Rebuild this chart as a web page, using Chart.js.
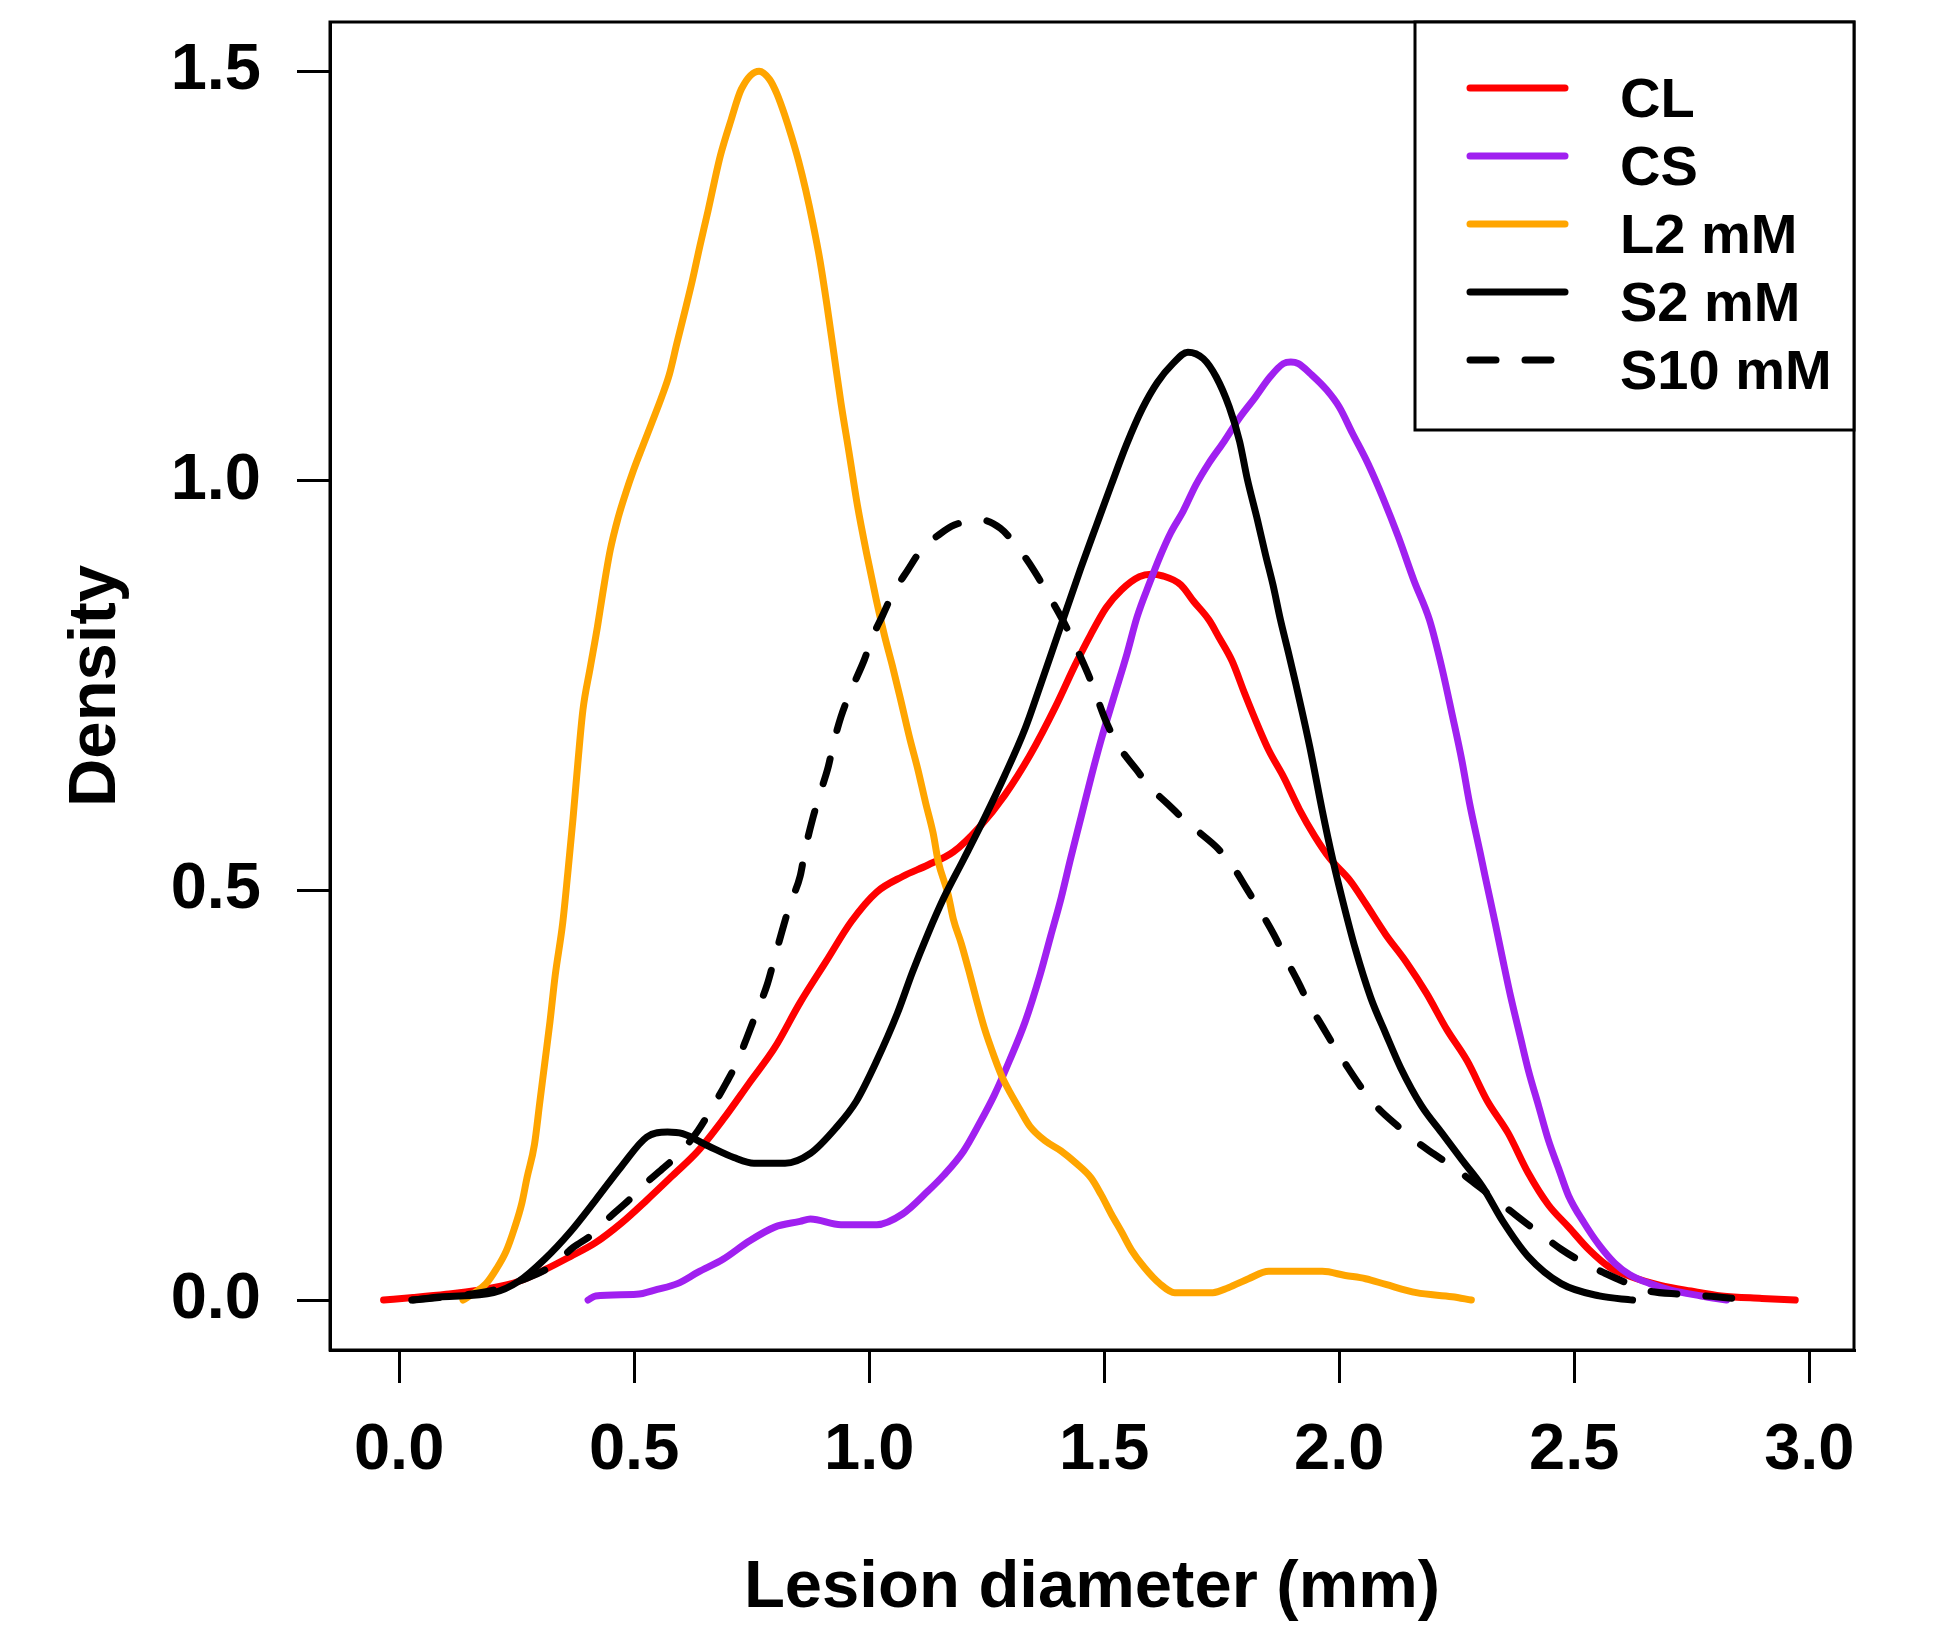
<!DOCTYPE html>
<html>
<head>
<meta charset="utf-8">
<title>Lesion diameter density</title>
<script src="https://cdn.jsdelivr.net/npm/chart.js@4.4.1/dist/chart.umd.min.js"></script>
<style>
	html, body { margin: 0; padding: 0; background: #fff; }
	#wrap { width: 1948px; height: 1644px; }
</style>
</head>
<body>
<div id="wrap"><canvas id="chartDensity"></canvas></div>
<script>
const chartDensity = document.getElementById("chartDensity");

// Data
const labels = ["CL", "CS", "L2 mM", "S2 mM", "S10 mM"];
const colors = ["#FF0000", "#A020F0", "#FFA500", "#000000", "#000000"];
const xTicks = [0, 0.5, 1, 1.5, 2, 2.5, 3];
const yTicks = [0, 0.5, 1, 1.5];

const clX = [-0.033, 0.03, 0.10, 0.20, 0.255, 0.31, 0.364, 0.418, 0.473, 0.527, 0.582, 0.636, 0.69, 0.745, 0.799, 0.853, 0.908, 0.962, 1.016, 1.071, 1.125, 1.179, 1.234, 1.288, 1.342, 1.397, 1.438, 1.471, 1.504, 1.537, 1.575, 1.60, 1.624, 1.663, 1.69, 1.723, 1.744, 1.772, 1.799, 1.829, 1.85, 1.882, 1.915, 1.948, 1.98, 2.023, 2.056, 2.099, 2.142, 2.186, 2.229, 2.272, 2.315, 2.359, 2.402, 2.445, 2.488, 2.532, 2.575, 2.618, 2.683, 2.748, 2.813, 2.899, 2.97];
const clY = [0, 0.003, 0.007, 0.015, 0.023, 0.037, 0.053, 0.07, 0.094, 0.122, 0.152, 0.182, 0.221, 0.265, 0.308, 0.363, 0.413, 0.462, 0.498, 0.517, 0.531, 0.547, 0.577, 0.616, 0.665, 0.725, 0.775, 0.812, 0.845, 0.867, 0.883, 0.886, 0.884, 0.873, 0.853, 0.83, 0.809, 0.78, 0.74, 0.698, 0.671, 0.638, 0.599, 0.566, 0.539, 0.512, 0.484, 0.446, 0.413, 0.374, 0.33, 0.292, 0.243, 0.204, 0.155, 0.116, 0.089, 0.061, 0.04, 0.029, 0.018, 0.011, 0.005, 0.002, 0];

const csX = [0.402, 0.418, 0.505, 0.549, 0.592, 0.636, 0.69, 0.745, 0.799, 0.853, 0.875, 0.94, 1.016, 1.071, 1.125, 1.158, 1.201, 1.234, 1.266, 1.299, 1.332, 1.364, 1.386, 1.408, 1.429, 1.451, 1.472, 1.494, 1.52, 1.548, 1.57, 1.597, 1.619, 1.641, 1.668, 1.695, 1.722, 1.755, 1.788, 1.82, 1.853, 1.881, 1.897, 1.913, 1.94, 1.973, 2.0, 2.028, 2.061, 2.093, 2.126, 2.159, 2.192, 2.219, 2.24, 2.261, 2.277, 2.299, 2.31, 2.331, 2.348, 2.364, 2.386, 2.402, 2.424, 2.445, 2.467, 2.488, 2.521, 2.553, 2.586, 2.618, 2.661, 2.705, 2.77, 2.824];
const csY = [0, 0.005, 0.007, 0.013, 0.02, 0.034, 0.05, 0.072, 0.089, 0.096, 0.099, 0.092, 0.092, 0.105, 0.133, 0.152, 0.182, 0.215, 0.25, 0.293, 0.34, 0.398, 0.444, 0.49, 0.54, 0.59, 0.638, 0.685, 0.735, 0.788, 0.834, 0.876, 0.908, 0.936, 0.963, 0.995, 1.021, 1.048, 1.077, 1.101, 1.127, 1.143, 1.145, 1.143, 1.13, 1.111, 1.09, 1.058, 1.021, 0.979, 0.931, 0.878, 0.83, 0.77, 0.715, 0.658, 0.607, 0.548, 0.518, 0.462, 0.415, 0.372, 0.319, 0.281, 0.237, 0.195, 0.16, 0.127, 0.094, 0.067, 0.045, 0.031, 0.02, 0.012, 0.005, 0];

const l2X = [0.136, 0.158, 0.185, 0.207, 0.228, 0.245, 0.261, 0.272, 0.288, 0.299, 0.31, 0.321, 0.332, 0.348, 0.359, 0.37, 0.38, 0.391, 0.406, 0.422, 0.433, 0.449, 0.466, 0.482, 0.498, 0.52, 0.537, 0.559, 0.575, 0.591, 0.608, 0.624, 0.64, 0.657, 0.671, 0.684, 0.706, 0.728, 0.766, 0.788, 0.804, 0.82, 0.835, 0.85, 0.865, 0.88, 0.895, 0.91, 0.925, 0.94, 0.957, 0.975, 0.995, 1.015, 1.033, 1.049, 1.066, 1.087, 1.103, 1.12, 1.136, 1.147, 1.168, 1.179, 1.196, 1.212, 1.228, 1.245, 1.266, 1.283, 1.299, 1.321, 1.342, 1.375, 1.408, 1.44, 1.472, 1.494, 1.515, 1.537, 1.558, 1.585, 1.618, 1.65, 1.731, 1.764, 1.807, 1.85, 1.964, 2.013, 2.056, 2.099, 2.164, 2.24, 2.281];
const l2Y = [0, 0.008, 0.02, 0.038, 0.06, 0.087, 0.118, 0.149, 0.19, 0.24, 0.29, 0.34, 0.396, 0.46, 0.522, 0.588, 0.654, 0.72, 0.77, 0.822, 0.862, 0.915, 0.955, 0.985, 1.012, 1.045, 1.07, 1.103, 1.13, 1.168, 1.207, 1.245, 1.287, 1.329, 1.366, 1.398, 1.44, 1.478, 1.50, 1.49, 1.472, 1.447, 1.42, 1.39, 1.355, 1.315, 1.27, 1.215, 1.155, 1.095, 1.035, 0.97, 0.91, 0.855, 0.81, 0.775, 0.735, 0.684, 0.649, 0.607, 0.57, 0.535, 0.495, 0.465, 0.435, 0.402, 0.367, 0.332, 0.297, 0.272, 0.254, 0.232, 0.212, 0.194, 0.182, 0.167, 0.149, 0.128, 0.105, 0.083, 0.061, 0.04, 0.02, 0.009, 0.009, 0.015, 0.026, 0.035, 0.035, 0.03, 0.026, 0.019, 0.009, 0.004, 0];

const s2X = [0.027, 0.092, 0.201, 0.255, 0.31, 0.364, 0.418, 0.473, 0.527, 0.571, 0.603, 0.658, 0.712, 0.755, 0.821, 0.875, 0.929, 0.973, 1.016, 1.06, 1.092, 1.125, 1.158, 1.201, 1.245, 1.288, 1.332, 1.364, 1.40, 1.45, 1.483, 1.515, 1.548, 1.581, 1.613, 1.646, 1.678, 1.711, 1.738, 1.766, 1.788, 1.804, 1.826, 1.843, 1.859, 1.875, 1.892, 1.908, 1.937, 1.964, 1.986, 2.007, 2.034, 2.067, 2.099, 2.131, 2.175, 2.218, 2.261, 2.305, 2.348, 2.402, 2.472, 2.553, 2.624];
const s2Y = [0, 0.004, 0.009, 0.023, 0.05, 0.083, 0.122, 0.163, 0.199, 0.205, 0.203, 0.188, 0.174, 0.167, 0.167, 0.179, 0.21, 0.243, 0.292, 0.35, 0.4, 0.447, 0.49, 0.538, 0.588, 0.64, 0.698, 0.75, 0.81, 0.893, 0.945, 0.995, 1.045, 1.088, 1.12, 1.143, 1.157, 1.149, 1.127, 1.09, 1.048, 1.003, 0.952, 0.91, 0.873, 0.83, 0.79, 0.751, 0.676, 0.597, 0.538, 0.488, 0.429, 0.369, 0.325, 0.283, 0.237, 0.204, 0.171, 0.138, 0.096, 0.053, 0.02, 0.005, 0];

const s10X = [0.03, 0.1, 0.2, 0.26, 0.326, 0.37, 0.413, 0.446, 0.489, 0.516, 0.56, 0.598, 0.636, 0.663, 0.696, 0.717, 0.739, 0.761, 0.783, 0.799, 0.815, 0.832, 0.853, 0.864, 0.88, 0.897, 0.913, 0.924, 0.94, 0.962, 0.99, 1.006, 1.028, 1.05, 1.082, 1.11, 1.148, 1.181, 1.24, 1.279, 1.317, 1.35, 1.377, 1.404, 1.426, 1.448, 1.47, 1.483, 1.504, 1.531, 1.569, 1.596, 1.634, 1.667, 1.704, 1.742, 1.775, 1.802, 1.834, 1.861, 1.888, 1.91, 1.937, 1.964, 1.991, 2.018, 2.05, 2.083, 2.121, 2.158, 2.202, 2.24, 2.278, 2.316, 2.359, 2.397, 2.434, 2.472, 2.515, 2.564, 2.607, 2.651, 2.726, 2.802, 2.872];
const s10Y = [0, 0.004, 0.012, 0.024, 0.042, 0.064, 0.081, 0.1, 0.122, 0.138, 0.16, 0.18, 0.207, 0.232, 0.265, 0.288, 0.319, 0.352, 0.385, 0.418, 0.451, 0.484, 0.517, 0.55, 0.588, 0.621, 0.651, 0.679, 0.712, 0.745, 0.782, 0.808, 0.835, 0.862, 0.891, 0.915, 0.934, 0.946, 0.952, 0.942, 0.918, 0.891, 0.865, 0.838, 0.814, 0.787, 0.758, 0.738, 0.706, 0.676, 0.647, 0.627, 0.606, 0.588, 0.57, 0.551, 0.528, 0.503, 0.473, 0.446, 0.415, 0.391, 0.36, 0.334, 0.308, 0.284, 0.257, 0.234, 0.214, 0.196, 0.178, 0.163, 0.147, 0.13, 0.111, 0.094, 0.078, 0.062, 0.047, 0.033, 0.022, 0.012, 0.007, 0.004, 0];

const seriesX = [clX, csX, l2X, s2X, s10X];
const seriesY = [clY, csY, l2Y, s2Y, s10Y];
const dashes = [[], [], [], [], [26, 29]];

Chart.defaults.font.family = "'Liberation Sans', Arial, Helvetica, sans-serif";
Chart.defaults.font.weight = "bold";
Chart.defaults.color = "#000";

function toPoints(xs, ys) {
	let pts = [];
	xs.forEach(function(x, i) {
		pts.push({x: x, y: ys[i]});
	});
	return pts;
}

const datasets = labels.map(function(label, i) {
	return {
		label: label,
		data: toPoints(seriesX[i], seriesY[i]),
		borderColor: colors[i],
		borderWidth: 7,
		borderDash: dashes[i],
		borderCapStyle: "round",
		borderJoinStyle: "round",
		pointRadius: 0,
		fill: false,
		cubicInterpolationMode: "monotone",
		order: labels.length - i
	};
});

// box around the plot region
const plotBox = {
	id: "plotBox",
	afterDraw(chart) {
		const {ctx, chartArea} = chart;
		ctx.save();
		ctx.strokeStyle = "#000";
		ctx.lineWidth = 3;
		ctx.strokeRect(chartArea.left, chartArea.top, chartArea.right - chartArea.left, chartArea.bottom - chartArea.top);
		ctx.restore();
	}
};

// legend box in the top right corner
const boxLegend = {
	id: "boxLegend",
	afterDraw(chart) {
		const {ctx, chartArea} = chart;
		const right = chartArea.right;
		const top = chartArea.top;
		ctx.save();
		ctx.fillStyle = "#fff";
		ctx.fillRect(right - 439, top, 439, 408);
		ctx.strokeStyle = "#000";
		ctx.lineWidth = 3;
		ctx.strokeRect(right - 439, top, 439, 408);
		chart.data.datasets.forEach(function(ds, i) {
			const y = top + 66 + i * 68;
			ctx.beginPath();
			ctx.setLineDash(ds.borderDash);
			ctx.lineCap = "round";
			ctx.lineWidth = ds.borderWidth;
			ctx.strokeStyle = ds.borderColor;
			ctx.moveTo(right - 384, y);
			ctx.lineTo(right - 289, y);
			ctx.stroke();
			ctx.setLineDash([]);
			ctx.fillStyle = "#000";
			ctx.font = "bold 56px 'Liberation Sans', Arial, sans-serif";
			ctx.textAlign = "left";
			ctx.textBaseline = "alphabetic";
			ctx.fillText(ds.label, right - 234, y + 29);
		});
		ctx.restore();
	}
};

const densityChart = new Chart(chartDensity, {
	type: "line",
	data: { datasets: datasets },
	plugins: [plotBox, boxLegend],
	options: {
		responsive: true,
		maintainAspectRatio: false,
		animation: false,
		devicePixelRatio: 1,
		layout: { padding: { top: 22, right: 94, left: 0, bottom: 0 } },
		plugins: {
			legend: { display: false },
			tooltip: { enabled: false }
		},
		scales: {
			x: {
				type: "linear",
				min: -0.147,
				max: 3.095,
				afterBuildTicks: function(s) { s.ticks = xTicks.map(v => ({value: v})); },
				afterFit: function(s) {
					s.height = 294;
					s.paddingLeft = 0;
					s.paddingRight = 0;
				},
				grid: { drawOnChartArea: false, drawTicks: true, tickLength: 33, color: "#000", lineWidth: 3 },
				border: { display: true, color: "#000", width: 3 },
				ticks: {
					padding: 29,
					autoSkip: false,
					maxRotation: 0,
					font: { size: 65, weight: "bold" },
					color: "#000",
					callback: v => v.toFixed(1)
				},
				title: {
					display: true,
					text: "Lesion diameter (mm)",
					font: { size: 67, weight: "bold" },
					color: "#000",
					padding: { top: 0, bottom: 15 }
				}
			},
			y: {
				type: "linear",
				min: -0.061,
				max: 1.56,
				afterBuildTicks: function(s) { s.ticks = yTicks.map(v => ({value: v})); },
				afterFit: function(s) {
					s.width = 330;
					s.paddingTop = 0;
					s.paddingBottom = 0;
				},
				grid: { drawOnChartArea: false, drawTicks: true, tickLength: 33, color: "#000", lineWidth: 3 },
				border: { display: true, color: "#000", width: 3 },
				ticks: {
					padding: 36,
					autoSkip: false,
					font: { size: 65, weight: "bold" },
					color: "#000",
					callback: v => v.toFixed(1)
				},
				title: {
					display: true,
					text: "Density",
					font: { size: 67, weight: "bold" },
					color: "#000",
					padding: { top: 56, bottom: 0 }
				}
			}
		}
	}
});
</script>
</body>
</html>
